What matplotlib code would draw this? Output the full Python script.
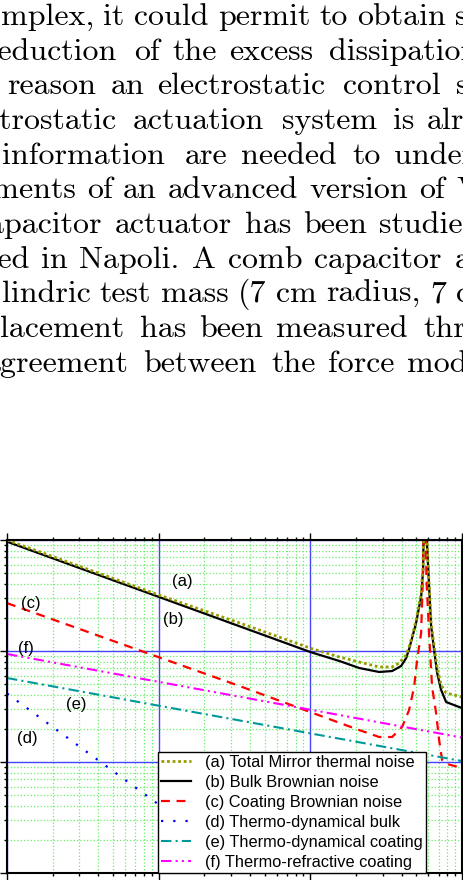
import matplotlib
matplotlib.use("Agg")
import matplotlib.pyplot as plt
from matplotlib.transforms import IdentityTransform
from matplotlib.font_manager import FontProperties

# page text above the figure (cut at the page edges)
page_text = [
    "complex, it could permit to obtain significant",
    "reduction of the excess dissipation",
    "For this reason an electrostatic control system",
    "electrostatic actuation system is already",
    "more information are needed to understand",
    "experiments of an advanced version of Virgo",
    "capacitor actuator has been studied",
    "realized in Napoli. A comb capacitor actuator",
    "lindric test mass (7 cm radius, 7 cm",
    "lacement has been measured through",
    "agreement between the force model",
]

# noise curves: frequency [Hz], amplitude [m/sqrt(Hz)]
freq_total = [10, 100, 341, 1000, 1553, 2099, 2843, 3462, 3853, 4284, 4480, 4688, 4982,
              5214, 5375, 5541, 5668, 5882, 6063, 6252, 6546, 6855, 7284, 7856, 10000]
total = [1.0e-17, 3.2e-18, 1.79e-18, 1.06e-18, 8.83e-19, 7.96e-19, 7.18e-19, 7.18e-19,
         7.80e-19, 9.20e-19, 1.09e-18, 1.36e-18, 1.90e-18, 2.65e-18, 3.27e-18, 5.96e-18,
         5e-17, 9.39e-18, 4.10e-18, 1.82e-18, 1.13e-18, 7.03e-19, 4.94e-19, 4.19e-19, 3.85e-19]

freq_bulk = [10, 1000, 1553, 2099, 2843, 3462, 3972, 4284, 4480, 4688, 4982, 5214,
             5375, 5541, 5668, 5882, 6063, 6252, 6546, 6855, 7284, 7856, 10000]
bulk = [9.66e-18, 9.79e-19, 8.13e-19, 7.03e-19, 6.47e-19, 6.60e-19, 7.33e-19, 8.65e-19,
        1.04e-18, 1.31e-18, 1.79e-18, 2.49e-18, 3.06e-18, 5.37e-18, 5e-17, 9.02e-18,
        3.94e-18, 1.71e-18, 1.02e-18, 6.34e-19, 4.46e-19, 3.47e-19, 3.06e-19]

freq_coat = [10, 341, 2099, 2843, 3462, 4030, 4480, 4833, 5058, 5375, 5541, 5668,
             5834, 6063, 6349, 6748, 7066, 7396, 7977, 10000]
coat = [2.70e-18, 4.84e-19, 1.94e-19, 1.68e-19, 1.68e-19, 2.07e-19, 2.94e-19, 4.74e-19,
        8.30e-19, 1.45e-18, 5.37e-18, 5e-17, 4.36e-18, 1.45e-18, 4.74e-19, 2.76e-19,
        1.58e-19, 1.04e-19, 9.59e-20, 8.83e-20]

freq_td_bulk = [10, 1000]
td_bulk = [4.14e-19, 4.14e-21]
freq_td_coat = [10, 10000]
td_coat = [5.71e-19, 1.02e-19]
freq_tr_coat = [10, 10000]
tr_coat = [9.4e-19, 1.66e-19]

legend_labels = ["(a) Total Mirror thermal noise", "(b) Bulk Brownian noise",
                 "(c) Coating Brownian noise", "(d) Thermo-dynamical bulk",
                 "(e) Thermo-dynamical coating", "(f) Thermo-refractive coating"]
tags = ["(a)", "(b)", "(c)", "(d)", "(e)", "(f)"]
tag_freq = [144, 124, 14.4, 13.7, 28.5, 13.3]
tag_amp = [4.19e-18, 1.94e-18, 2.70e-18, 1.64e-19, 3.27e-19, 1.06e-18]

W, H = 463, 880
fig = plt.figure(figsize=(W / 100, H / 100), dpi=100)
fig.patch.set_facecolor("white")

# --- page text, words spread like the justified page ---
prop = FontProperties(family="cmr10", size=23)
renderer = fig.canvas.get_renderer()

def text_w(s):
    return renderer.get_text_width_height_descent(s, prop, ismath=False)[0]

def offset(line, j):
    # x advance from line start to character j
    return text_w(line[:j + 1]) - text_w(line[j])

# (index of first visible char, its x) and (right-hand char, its x)
left_anchor = [(2, 1), (1, -2), (9, 7), (4, -1), (5, 2), (6, -8), (2, 4), (6, -2),
               (0, 2), (0, 0), (1, 1)]
right_key = [("significant", 0, 455), ("dissipation", 9, 450), ("system", 0, 456),
             ("already", 2, 453), ("understand", 3, 450), ("Virgo", 0, 456),
             ("studied", 5, 450), ("actuator", 0, 455), ("cm", 0, 456),
             ("through", 2, 455), ("model", 2, 451)]

for i, line in enumerate(page_text):
    a, xa = left_anchor[i]
    word, k, xb = right_key[i]
    b = line.rindex(word) + k
    oa, ob = offset(line, a), offset(line, b)
    s = (xb - xa) / (ob - oa)
    base = 25 + i * 34.65
    pos = 0
    for wd in line.split(" "):
        start = line.index(wd, pos)
        pos = start + len(wd)
        if start <= a < pos:
            x = xa - (oa - offset(line, start)) if start != a else xa
        else:
            x = xa + s * (offset(line, start) - oa)
        if x > W:
            break
        fig.text(x, H - base, wd, fontproperties=prop, ha="left", va="baseline",
                 transform=IdentityTransform())

# --- chart ---
ax = fig.add_axes([7 / W, 7 / H, 455 / W, 333 / H])
ax.set_xscale("log")
ax.set_yscale("log")
ax.set_xlim(10, 10000)
ax.set_ylim(1e-20, 1e-17)

ax.grid(which="minor", color="#66ee66", ls=":", lw=0.9)
ax.grid(which="major", color="#4444ff", ls="-", lw=1.0)
ax.set_axisbelow(True)

l_b, = ax.plot(freq_bulk, bulk, color="black", lw=1.6)
l_c, = ax.plot(freq_coat, coat, color="#ff0000", lw=1.6, ls=(0, (4, 3)))
l_d, = ax.plot(freq_td_bulk, td_bulk, color="#0000ff", lw=1.6, ls=(0, (1, 4.5)))
l_e, = ax.plot(freq_td_coat, td_coat, color="#009999", lw=1.5, ls=(0, (5, 2, 1, 2)))
l_f, = ax.plot(freq_tr_coat, tr_coat, color="#ff00ff", lw=1.5, ls=(0, (5, 2, 1, 2, 1, 2)))
l_a, = ax.plot(freq_total, total, color="#999900", lw=2.0, ls=(0, (1, 1)))

for t, fx, fy in zip(tags, tag_freq, tag_amp):
    ax.text(fx, fy, t, ha="center", va="center", fontsize=12, family="Liberation Sans")

leg = ax.legend([l_a, l_b, l_c, l_d, l_e, l_f], legend_labels, loc="lower left",
                bbox_to_anchor=(0.332, 0.0), borderaxespad=0, fancybox=False,
                framealpha=1, edgecolor="black", handlelength=1.8, handletextpad=0.85,
                labelspacing=0.3, borderpad=0.2,
                prop=FontProperties(family="Liberation Sans", size=11.8))
leg.get_frame().set_linewidth(1.0)

for sp in ax.spines.values():
    sp.set_linewidth(1.5)
ax.tick_params(which="both", direction="out", top=True, right=True,
               labelbottom=False, labelleft=False, colors="black")
ax.tick_params(which="major", length=5, width=1)
ax.tick_params(which="minor", length=2.5, width=1)

fig.savefig("out.png", dpi=100)
